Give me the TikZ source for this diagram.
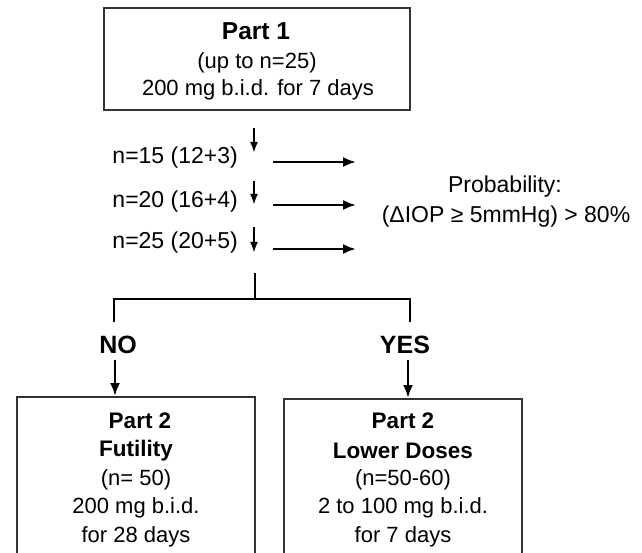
\documentclass[tikz,border=0pt]{standalone}
\usepackage{fontspec}
\setmainfont{Liberation Sans}
\usetikzlibrary{arrows.meta}
\begin{document}
\begin{tikzpicture}[x=1pt,y=-1pt,
  box/.style={draw=black!80,line width=2pt,inner sep=0pt},
  lbl/.style={inner sep=0pt,anchor=center},
  arr/.style={line width=2.3pt,-{Latex[length=13pt,width=10pt]}},
  darr/.style={line width=2.3pt,-{Latex[length=11pt,width=8pt]}},
  ln/.style={line width=2.4pt},
  fr/.style={font=\fontsize{22}{26}\selectfont},
  fl/.style={font=\fontsize{23}{27}\selectfont},
  fb/.style={font=\fontsize{22}{26}\selectfont},
  hb/.style={font=\bfseries\fontsize{22.5}{26}\selectfont},
]
\useasboundingbox (0,0) rectangle (642,553);
\clip (0,0) rectangle (642,553);

% top box
\node[box,minimum width=306pt,minimum height=102pt] (p1) at (257,59) {};
\node[lbl,font=\bfseries\fontsize{24.5}{28}\selectfont] (p1a) at (256,31) {Part 1};
\node[lbl,fb] (p1b) at (257,63) {(up to n=25)};
\node[lbl,fr] (p1c) at (258,90) {200 mg b.i.d. for 7 days};

% interim analyses
\node[lbl,fl,anchor=east] (n15) at (238,158) {n=15 (12+3)};
\node[lbl,fl,anchor=east] (n20) at (238,202) {n=20 (16+4)};
\node[lbl,fl,anchor=east] (n25) at (238,243) {n=25 (20+5)};

\coordinate (d1a) at (254,128); \coordinate (d1b) at (254,153);
\coordinate (d2a) at (254,181); \coordinate (d2b) at (254,205);
\coordinate (d3a) at (254,227); \coordinate (d3b) at (254,253);
\draw[darr] (d1a) -- (d1b);
\draw[darr] (d2a) -- (d2b);
\draw[darr] (d3a) -- (d3b);

\coordinate (r1a) at (273,162); \coordinate (r1b) at (356,162);
\coordinate (r2a) at (273,205); \coordinate (r2b) at (356,205);
\coordinate (r3a) at (273,249); \coordinate (r3b) at (356,249);
\draw[arr] (r1a) -- (r1b);
\draw[arr] (r2a) -- (r2b);
\draw[arr] (r3a) -- (r3b);

\node[lbl,fl] (prob) at (505,187) {Probability:};
\node[lbl,fl] (crit) at (506,217) {(ΔIOP ≥ 5mmHg) > 80\%};

% decision tree
\coordinate (stem) at (255,273);
\coordinate (junc) at (255,299);
\coordinate (jl) at (114,299);
\coordinate (jr) at (410,299);
\coordinate (jlb) at (114,322);
\coordinate (jrb) at (410,322);
\draw[ln] (stem) -- (junc);
\draw[ln] (jlb) -- (jl) -- (jr) -- (jrb);

\node[lbl,font=\bfseries\fontsize{25}{28}\selectfont] (no) at (118,345) {NO};
\node[lbl,font=\bfseries\fontsize{25}{28}\selectfont] (yes) at (405,345) {YES};

% bottom boxes
\node[box,minimum width=238pt,minimum height=203pt] (p2a) at (136,498.5) {};
\node[box,minimum width=238pt,minimum height=203pt] (p2b) at (403,500.5) {};

\coordinate (na) at (115,360);
\coordinate (ya) at (408,360);
\draw[arr] (na) -- (na |- p2a.north);
\draw[arr] (ya) -- (ya |- p2b.north);

\node[lbl,hb] (l1) at (140,421) {Part 2};
\node[lbl,hb] (l2) at (136,451) {Futility};
\node[lbl,fb] (l3) at (136,480) {(n= 50)};
\node[lbl,fb] (l4) at (136,508) {200 mg b.i.d.};
\node[lbl,fb] (l5) at (136,537) {for 28 days};

\node[lbl,hb] (r1) at (403,421) {Part 2};
\node[lbl,hb] (r2) at (403,451) {Lower Doses};
\node[lbl,fb] (r3) at (403,480) {(n=50-60)};
\node[lbl,fb] (r4) at (403,508) {2 to 100 mg b.i.d.};
\node[lbl,fb] (r5) at (403,537) {for 7 days};
\end{tikzpicture}
\end{document}
